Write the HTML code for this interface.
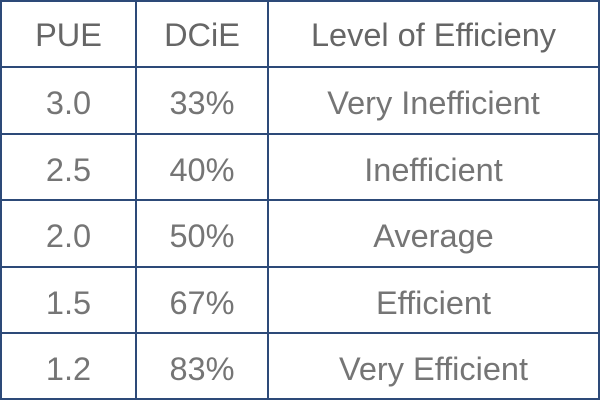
<!DOCTYPE html>
<html><head><meta charset="utf-8"><style>
body{margin:0;width:600px;height:400px;background:#fff;overflow:hidden;font-family:"Liberation Sans",sans-serif;}
.t{position:absolute;left:0;top:0;width:600px;height:400px;}
.h{position:absolute;height:2px;background:#2d4a78;left:0;width:600px;}
.v{position:absolute;width:2px;background:#2d4a78;top:0;height:400px;}
.c{position:absolute;height:66px;line-height:70px;text-align:center;color:#757575;font-size:32.5px;font-weight:300;}
.hd{color:#666;}
</style></head><body>
<div class="t">
<div class="h" style="top:0"></div>
<div class="h" style="top:66px"></div>
<div class="h" style="top:133px"></div>
<div class="h" style="top:199px"></div>
<div class="h" style="top:266px"></div>
<div class="h" style="top:332px"></div>
<div class="h" style="top:398px"></div>
<div class="v" style="left:0"></div>
<div class="v" style="left:135px"></div>
<div class="v" style="left:267px"></div>
<div class="v" style="left:598px"></div>

<div class="c hd" style="top:0px;left:2px;width:133px">PUE</div>
<div class="c hd" style="top:0px;left:137px;width:130px">DCiE</div>
<div class="c hd" style="top:0px;left:269px;width:329px">Level of Efficieny</div>

<div class="c" style="top:68px;left:2px;width:133px">3.0</div>
<div class="c" style="top:68px;left:137px;width:130px">33%</div>
<div class="c" style="top:68px;left:269px;width:329px">Very Inefficient</div>

<div class="c" style="top:135px;left:2px;width:133px">2.5</div>
<div class="c" style="top:135px;left:137px;width:130px">40%</div>
<div class="c" style="top:135px;left:269px;width:329px">Inefficient</div>

<div class="c" style="top:201px;left:2px;width:133px">2.0</div>
<div class="c" style="top:201px;left:137px;width:130px">50%</div>
<div class="c" style="top:201px;left:269px;width:329px">Average</div>

<div class="c" style="top:268px;left:2px;width:133px">1.5</div>
<div class="c" style="top:268px;left:137px;width:130px">67%</div>
<div class="c" style="top:268px;left:269px;width:329px">Efficient</div>

<div class="c" style="top:334px;left:2px;width:133px">1.2</div>
<div class="c" style="top:334px;left:137px;width:130px">83%</div>
<div class="c" style="top:334px;left:269px;width:329px">Very Efficient</div>
</div>
</body></html>
